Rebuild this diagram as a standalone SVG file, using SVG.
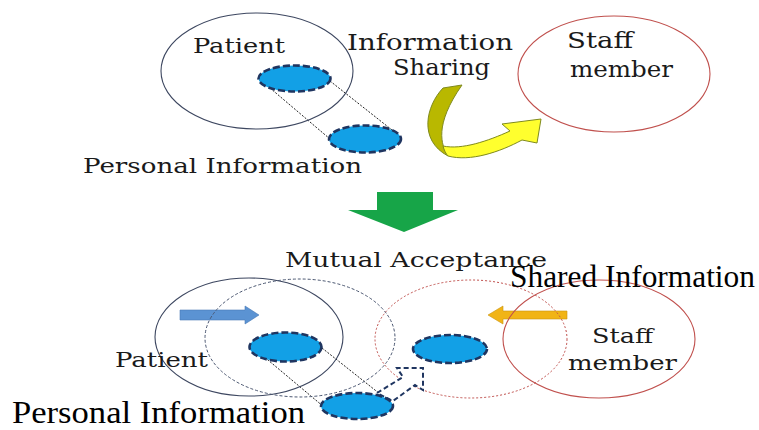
<svg xmlns="http://www.w3.org/2000/svg" width="759" height="430" viewBox="0 0 759 430">
<style>
.t{font-family:"DejaVu Serif","Liberation Serif",serif;fill:#1a1a1a;}
.tt{font-family:"Liberation Serif","Times New Roman",serif;fill:#000;}
.pc{fill:none;stroke:#3d4760;stroke-width:1.1;}
.sc{fill:none;stroke:#c0504d;stroke-width:1.1;}
.pcd{fill:none;stroke:#4a5670;stroke-width:1;stroke-dasharray:3 2;}
.scd{fill:none;stroke:#c0504d;stroke-width:1;stroke-dasharray:2 2;}
.info{fill:#12a0e6;stroke:#1f3560;stroke-width:2.6;stroke-dasharray:7 3;}
.dl{fill:none;stroke:#222;stroke-width:1;stroke-dasharray:2 1.5;}
</style>
<rect width="759" height="430" fill="#fff"/>

<g id="connectors">
  <line class="dl" x1="270" y1="88" x2="330" y2="139"/>
  <line class="dl" x1="330" y1="81" x2="392" y2="130"/>
  <line class="dl" x1="262" y1="355" x2="324" y2="407"/>
  <line class="dl" x1="322" y1="348" x2="380" y2="394"/>
  <g id="share-arrow">
    <path d="M443,88 C426,106 418,140 448,156 C441,145 434,125 462,85 Z" fill="#b9b800" stroke="#7f8a1e" stroke-width="1"/>
    <path d="M448,156 C470,162 500,152 522,140 L537,143 L541,119 L502,124 L510,131 C488,141 462,150 443,146 C444,150 446,154 448,156 Z" fill="#ffff2e" stroke="#7f8a1e" stroke-width="1"/>
  </g>
  <polygon id="green-arrow" points="377,192 433,192 433,210 458,210 404,232 348,210 377,210" fill="#17a548"/>
  <polygon id="blue-arrow" points="180,310 245,310 245,306 259,315 245,324 245,320 180,320" fill="#5b93d3" stroke="#4a7ab5" stroke-width="0.6"/>
  <polygon id="gold-arrow" points="567,311 503,311 503,306 488,315 503,324 503,319 567,319" fill="#f1b416" stroke="#c99410" stroke-width="0.6"/>
</g>

<g id="patient-top">
  <ellipse class="pc" cx="257" cy="71" rx="96" ry="58"/>
  <text class="t" x="193" y="53" font-size="21" textLength="92" lengthAdjust="spacingAndGlyphs">Patient</text>
</g>
<g id="staff-top">
  <ellipse class="sc" cx="614" cy="74" rx="96" ry="58"/>
  <text class="t" x="567" y="48" font-size="22" textLength="66" lengthAdjust="spacingAndGlyphs">Staff</text>
  <text class="t" x="570" y="77" font-size="22" textLength="103" lengthAdjust="spacingAndGlyphs">member</text>
</g>
<g id="info-sharing-label">
  <text class="t" x="347" y="50" font-size="22" textLength="166" lengthAdjust="spacingAndGlyphs">Information</text>
  <text class="t" x="393" y="75" font-size="22" textLength="97" lengthAdjust="spacingAndGlyphs">Sharing</text>
</g>
<g id="info-top-1"><ellipse class="info" cx="294.5" cy="78.5" rx="36" ry="13"/></g>
<g id="info-top-2"><ellipse class="info" cx="365" cy="139" rx="36" ry="13.5"/></g>
<g id="personal-info-top">
  <text class="t" x="83" y="173" font-size="21" textLength="279" lengthAdjust="spacingAndGlyphs">Personal Information</text>
</g>

<g id="mutual-acceptance">
  <text class="t" x="285" y="267" font-size="21" textLength="262" lengthAdjust="spacingAndGlyphs">Mutual Acceptance</text>
</g>

<g id="patient-bottom">
  <ellipse class="pc" cx="249" cy="337" rx="94" ry="59"/>
  <ellipse class="pcd" cx="300" cy="338" rx="95" ry="59"/>
  <text class="t" x="115" y="367" font-size="20" textLength="93" lengthAdjust="spacingAndGlyphs">Patient</text>
</g>
<g id="staff-bottom">
  <ellipse class="scd" cx="471" cy="339" rx="96" ry="59"/>
  <ellipse class="sc" cx="599" cy="339" rx="96" ry="59"/>
  <text class="t" x="592" y="343" font-size="21" textLength="61" lengthAdjust="spacingAndGlyphs">Staff</text>
  <text class="t" x="568" y="370" font-size="21" textLength="109" lengthAdjust="spacingAndGlyphs">member</text>
</g>
<g id="shared-info">
  <ellipse class="info" cx="450" cy="349" rx="37" ry="14"/>
  <text class="tt" x="510" y="287" font-size="31" textLength="245" lengthAdjust="spacingAndGlyphs">Shared Information</text>
</g>
<g id="info-bottom-1"><ellipse class="info" cx="285.5" cy="347" rx="36" ry="14.5"/></g>
<polygon id="dashed-arrow" points="377,393 403,377 397,368 423,368 423,390 415,385 393,401" fill="#fff" stroke="#1f3560" stroke-width="2" stroke-dasharray="5 3"/>
<g id="info-bottom-2"><ellipse class="info" cx="357" cy="406" rx="36" ry="13"/></g>
<g id="personal-info-bottom">
  <text class="tt" x="12" y="423" font-size="31" textLength="293" lengthAdjust="spacingAndGlyphs">Personal Information</text>
</g>
</svg>
